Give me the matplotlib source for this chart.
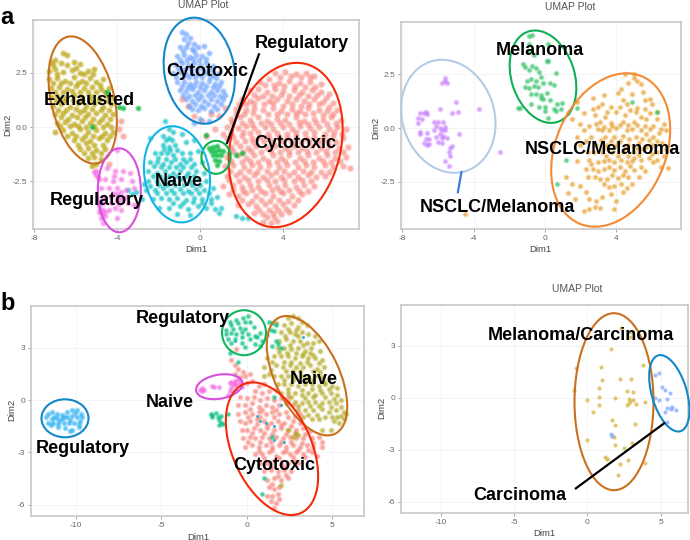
import matplotlib
matplotlib.use("Agg")
import matplotlib.pyplot as plt
from matplotlib.patches import Ellipse

W, H = 690, 540
plt.rcParams['font.family'] = ['Liberation Sans', 'DejaVu Sans']

RED, OLIVE, GREEN, TEAL, BLUE, MAG = '#F8766D', '#B79F00', '#00BA38', '#00BFC4', '#619CFF', '#F564E3'
GOLD, LILAC, SKY, MINT, YEL = '#E69F2A', '#C77CFF', '#39B6F5', '#00BF7D', '#D8BE55'

# ---------- panel a, left ----------
a_cyto = [(3.6,2.5),(4.1,2.55),(4.6,2.45),(5.1,2.5),(5.5,2.35),(2.9,2.1),(3.3,2.2),(3.8,2.05),(4.3,2.15),(4.8,2.05),(5.3,2.1),(5.8,2.0),
(2.4,1.7),(2.8,1.75),(3.2,1.6),(3.6,1.75),(4.0,1.65),(4.5,1.7),(4.9,1.6),(5.4,1.7),(5.8,1.6),(6.2,1.55),
(2.0,1.3),(2.4,1.2),(2.8,1.35),(3.3,1.2),(3.7,1.3),(4.2,1.2),(4.6,1.3),(5.0,1.2),(5.5,1.3),(5.9,1.15),(6.4,1.1),
(1.7,0.85),(2.2,0.8),(2.6,0.9),(3.0,0.8),(3.5,0.9),(3.9,0.75),(4.4,0.85),(4.8,0.75),(5.2,0.9),(5.7,0.8),(6.1,0.75),(6.6,0.8),
(1.5,0.4),(1.9,0.45),(2.4,0.35),(2.8,0.45),(3.2,0.3),(3.7,0.4),(4.1,0.35),(4.6,0.45),(5.0,0.3),(5.5,0.4),(5.9,0.35),(6.3,0.45),(6.8,0.35),
(1.3,0.0),(1.8,-0.05),(2.2,0.05),(2.6,-0.05),(3.1,0.0),(3.5,-0.1),(4.0,0.0),(4.4,-0.1),(4.8,0.05),(5.3,-0.05),(5.7,0.0),(6.2,-0.1),(6.6,0.0),(7.0,-0.1),
(1.3,-0.5),(1.6,-0.45),(2.0,-0.4),(2.5,-0.5),(2.9,-0.45),(3.3,-0.5),(3.8,-0.45),(4.2,-0.5),(4.6,-0.4),(5.1,-0.5),(5.5,-0.45),(5.9,-0.5),(6.4,-0.4),(6.9,-0.5),
(1.5,-0.9),(1.9,-0.85),(2.3,-0.95),(2.7,-0.85),(3.2,-0.95),(3.6,-0.85),(4.1,-0.95),(4.5,-0.85),(4.9,-0.95),(5.4,-0.85),(5.8,-0.95),(6.2,-0.85),(6.7,-0.95),(7.1,-0.9),
(1.3,-1.35),(1.8,-1.3),(2.2,-1.4),(2.6,-1.3),(3.0,-1.4),(3.5,-1.3),(3.9,-1.4),(4.3,-1.3),(4.8,-1.4),(5.2,-1.3),(5.7,-1.4),(6.1,-1.3),(6.5,-1.4),(7.0,-1.35),
(1.2,-1.8),(1.6,-1.75),(2.1,-1.85),(2.5,-1.75),(2.9,-1.85),(3.3,-1.75),(3.8,-1.85),(4.2,-1.75),(4.7,-1.85),(5.1,-1.75),(5.5,-1.85),(6.0,-1.75),(6.4,-1.85),(6.9,-1.8),(7.2,-1.9),
(1.3,-2.25),(1.7,-2.2),(2.1,-2.3),(2.6,-2.2),(3.0,-2.3),(3.4,-2.2),(3.9,-2.3),(4.3,-2.2),(4.7,-2.3),(5.2,-2.2),(5.6,-2.3),(6.0,-2.25),
(1.1,-2.7),(1.6,-2.65),(2.0,-2.75),(2.4,-2.65),(2.8,-2.75),(3.3,-2.65),(3.7,-2.75),(4.1,-2.65),(4.6,-2.75),(5.0,-2.65),(5.5,-2.7),
(1.4,-3.1),(1.8,-3.15),(2.2,-3.05),(2.7,-3.15),(3.1,-3.05),(3.5,-3.15),(4.0,-3.05),(4.4,-3.15),(4.9,-3.1),
(1.8,-3.6),(2.3,-3.55),(2.7,-3.65),(3.1,-3.55),(3.6,-3.65),(4.0,-3.55),(4.5,-3.6),
(2.6,-3.95),(3.0,-4.0),(3.5,-3.95),(3.9,-4.0),(4.3,-3.9),(3.0,-4.35),(3.4,-4.4),(3.7,-4.3),
(-0.9,1.3),(-0.6,1.0),(-0.3,0.5),(0.1,0.3),(0.5,0.6),(0.9,0.5),(1.2,0.9),(0.7,-0.1),(1.1,-0.3),(0.3,-0.4),(-3.8,0.3),(-3.9,-0.1),(-3.7,-0.4),(-4.4,-1.7)]
a_cyto_more = [(3.85,2.3),(4.35,2.35),(4.85,2.3),(5.3,2.3),(3.1,1.95),(3.55,1.95),(4.05,1.9),(4.55,1.9),(5.05,1.85),(5.55,1.85),(2.6,1.5),(3.0,1.45),(3.45,1.45),(3.9,1.5),(4.3,1.45),(4.75,1.5),(5.2,1.45),(5.65,1.5),(6.05,1.35),
(1.85,1.05),(2.2,1.05),(2.6,1.1),(3.05,1.05),(3.5,1.1),(4.0,1.0),(4.4,1.05),(4.85,1.0),(5.25,1.05),(5.7,1.05),(6.2,0.95),(1.7,0.6),(2.1,0.6),(2.55,0.65),(3.25,0.6),(3.7,0.6),(4.2,0.6),(4.6,0.65),(5.05,0.6),(5.45,0.65),(5.9,0.55),(6.4,0.6),
(1.55,0.2),(2.0,0.2),(2.5,0.15),(2.95,0.2),(3.4,0.15),(3.85,0.2),(4.3,0.15),(4.75,0.25),(5.2,0.15),(5.6,0.2),(6.1,0.15),(6.55,0.2),(1.5,-0.25),(2.05,-0.2),(2.4,-0.25),(2.8,-0.2),(3.25,-0.3),(3.7,-0.25),(4.2,-0.3),(4.6,-0.2),(5.05,-0.25),(5.5,-0.2),(6.0,-0.3),(6.45,-0.2),(6.85,-0.3),
(1.7,-0.7),(2.15,-0.65),(2.55,-0.7),(3.05,-0.65),(3.5,-0.7),(3.95,-0.65),(4.4,-0.7),(4.85,-0.7),(5.25,-0.65),(5.7,-0.7),(6.15,-0.65),(6.55,-0.7),(1.6,-1.1),(2.05,-1.15),(2.45,-1.1),(2.95,-1.15),(3.4,-1.1),(3.85,-1.15),(4.3,-1.1),(4.7,-1.15),(5.15,-1.1),(5.6,-1.15),(6.05,-1.1),(6.5,-1.15),(6.9,-1.15),
(1.5,-1.55),(2.0,-1.6),(2.4,-1.55),(2.8,-1.6),(3.25,-1.55),(3.7,-1.6),(4.1,-1.55),(4.55,-1.6),(5.0,-1.55),(5.45,-1.6),(5.9,-1.55),(6.3,-1.6),(6.75,-1.55),(1.45,-2.0),(1.9,-2.05),(2.35,-2.0),(2.75,-2.05),(3.2,-2.0),(3.65,-2.05),(4.05,-2.0),(4.5,-2.05),(4.95,-2.0),(5.35,-2.05),(5.8,-2.05),(6.2,-2.05),
(1.4,-2.45),(1.85,-2.5),(2.3,-2.45),(2.8,-2.5),(3.2,-2.45),(3.6,-2.5),(4.05,-2.45),(4.5,-2.5),(4.9,-2.45),(5.35,-2.5),(1.6,-2.9),(2.05,-2.95),(2.5,-2.9),(2.95,-2.95),(3.45,-2.9),(3.85,-2.95),(4.3,-2.9),(4.75,-2.95),(5.2,-2.95),(2.0,-3.35),(2.5,-3.4),(2.95,-3.35),(3.35,-3.4),(3.8,-3.35),(4.25,-3.4),(4.7,-3.35),(2.85,-3.8),(3.3,-3.8),(3.75,-3.8),(4.15,-3.75),(3.2,-4.15),(3.55,-4.15)]
a_exh = [(-6.6,3.4),(-6.4,3.35),(-7.2,3.0),(-7.0,3.1),(-6.7,2.95),(-6.1,3.0),(-5.8,2.9),(-7.3,2.6),(-7.0,2.7),(-6.6,2.55),(-6.2,2.65),(-5.8,2.5),(-5.4,2.6),(-5.1,2.7),
(-7.3,2.2),(-6.9,2.25),(-6.5,2.15),(-6.1,2.3),(-5.7,2.15),(-5.3,2.25),(-5.0,2.1),(-4.7,2.2),(-7.2,1.8),(-6.8,1.85),(-6.4,1.75),(-6.0,1.9),(-5.6,1.8),(-5.2,1.85),(-4.8,1.75),(-4.4,1.8),
(-7.2,1.4),(-6.9,1.45),(-6.5,1.35),(-6.1,1.5),(-5.7,1.4),(-5.3,1.45),(-4.9,1.35),(-4.5,1.45),(-4.2,1.35),(-7.1,1.0),(-6.7,1.05),(-6.3,0.95),(-5.9,1.1),(-5.5,1.0),(-5.1,1.05),(-4.7,0.95),(-4.3,1.05),
(-7.0,0.6),(-6.6,0.65),(-6.2,0.55),(-5.8,0.7),(-5.4,0.6),(-5.0,0.65),(-4.6,0.55),(-4.2,0.6),(-6.9,0.2),(-6.5,0.25),(-6.1,0.15),(-5.7,0.3),(-5.3,0.2),(-4.9,0.25),(-4.5,0.15),
(-7.0,-0.2),(-6.6,-0.15),(-6.2,-0.25),(-5.8,-0.1),(-5.4,-0.2),(-5.0,-0.15),(-4.6,-0.25),(-4.2,-0.2),(-6.1,-0.6),(-5.7,-0.55),(-5.3,-0.65),(-4.9,-0.5),(-4.5,-0.6),(-5.8,-1.0),(-5.4,-0.95),(-5.0,-1.05),(-4.6,-1.0),
(-5.4,-1.4),(-5.1,-1.35),(-4.8,-1.45),(-5.2,-1.8),(-5.0,-1.7)]
a_exh_more = [(-7.1,2.85),(-6.9,2.45),(-6.4,2.85),(-6.0,2.75),(-5.6,2.45),(-7.1,2.05),(-6.7,2.05),(-6.3,2.05),(-5.9,2.05),(-5.5,2.05),(-5.15,2.45),(-4.85,1.95),(-7.0,1.6),(-6.6,1.6),(-6.2,1.65),(-5.8,1.6),(-5.4,1.6),(-5.0,1.6),(-4.6,1.6),
(-6.95,1.2),(-6.55,1.2),(-6.15,1.25),(-5.7,1.2),(-5.3,1.25),(-4.9,1.2),(-4.45,1.2),(-6.85,0.8),(-6.45,0.8),(-6.0,0.85),(-5.6,0.8),(-5.2,0.85),(-4.8,0.8),(-4.4,0.8),(-6.7,0.45),(-6.35,0.4),(-5.95,0.45),(-5.55,0.45),(-5.15,0.4),(-4.75,0.4),(-4.35,0.4),
(-6.75,0.05),(-6.3,0.05),(-5.9,0.05),(-5.5,0.0),(-5.1,0.05),(-4.7,0.0),(-4.3,0.0),(-6.4,-0.4),(-6.0,-0.4),(-5.55,-0.4),(-5.15,-0.4),(-4.75,-0.4),(-4.35,-0.4),(-5.9,-0.8),(-5.5,-0.75),(-5.1,-0.8),(-4.7,-0.8),(-5.6,-1.2),(-5.2,-1.2),(-4.8,-1.2)]
a_reg_top = [(0.4,-0.95),(0.6,-0.9),(0.8,-0.85),(0.5,-1.1),(0.7,-1.1),(0.9,-1.05),(1.1,-1.1),(0.6,-1.3),(0.8,-1.3),(1.0,-1.3),(0.7,-1.5),(0.9,-1.55),(0.8,-1.75),(1.4,-1.2),(1.7,-1.3),(2.0,-1.2),(0.3,-0.35),(-3.0,0.9),(-3.7,0.9),(-3.9,0.95),(-4.5,1.6),(-5.2,-0.0)]
a_cyto2 = [(-0.9,4.4),(-0.7,4.3),(-0.8,4.05),(-0.5,4.1),(-0.3,3.85),(-1.0,3.7),(-0.7,3.7),(-0.4,3.6),(-0.1,3.7),(0.2,3.75),(-1.1,3.3),(-0.8,3.35),(-0.5,3.25),(-0.2,3.35),(0.1,3.3),(0.4,3.4),
(-1.2,2.9),(-0.9,2.95),(-0.6,2.85),(-0.3,2.95),(0.0,2.85),(0.3,2.95),(0.6,2.8),(-1.3,2.5),(-1.0,2.55),(-0.7,2.45),(-0.4,2.5),(-0.1,2.45),(0.3,2.5),(0.6,2.4),(0.9,2.5),
(-1.1,2.1),(-0.8,2.1),(-0.5,2.0),(-0.2,2.1),(0.1,2.05),(0.4,2.15),(0.7,2.0),(1.0,2.1),(-1.0,1.7),(-0.7,1.65),(-0.4,1.75),(-0.1,1.6),(0.2,1.7),(0.5,1.6),(0.8,1.7),(1.1,1.65),
(-0.7,1.3),(-0.4,1.2),(-0.1,1.3),(0.2,1.2),(0.5,1.3),(0.8,1.2),(1.1,1.3),(-0.4,0.85),(-0.1,0.8),(0.2,0.9),(0.5,0.75),(0.8,0.85),(-0.3,0.2),(0.0,0.4),(0.4,0.3),(1.2,1.5),
(-0.6,3.9),(-0.85,3.5),(-0.3,3.5),(-1.0,3.1),(-0.65,3.1),(-0.35,3.15),(-0.05,3.1),(0.3,3.15),(-1.05,2.75),(-0.75,2.7),(-0.45,2.7),(-0.15,2.7),(0.15,2.7),(0.45,2.65),(-1.15,2.3),(-0.85,2.3),(-0.55,2.3),(-0.25,2.3),(0.1,2.3),(0.45,2.3),(0.75,2.25),
(-0.9,1.9),(-0.6,1.85),(-0.3,1.9),(0.0,1.85),(0.3,1.9),(0.6,1.85),(0.9,1.9),(-0.85,1.5),(-0.55,1.45),(-0.25,1.5),(0.05,1.45),(0.35,1.5),(0.65,1.5),(0.95,1.45),(-0.55,1.0),(-0.25,1.05),(0.05,1.0),(0.35,1.05),(0.65,1.0),(1.0,1.05)]
a_naive = [(-1.7,0.3),(-1.5,-0.1),(-1.8,-0.4),(-1.5,-0.5),(-1.3,-0.2),(-0.9,-0.3),(-2.4,-0.5),(-1.8,-0.8),(-1.5,-0.9),(-1.2,-0.8),(-0.7,-0.7),(-0.3,-0.6),
(-2.2,-1.2),(-1.9,-1.2),(-1.6,-1.2),(-1.3,-1.3),(-0.9,-1.2),(-0.5,-1.2),(-0.1,-1.1),(-2.4,-1.6),(-2.1,-1.6),(-1.8,-1.7),(-1.4,-1.6),(-1.0,-1.7),(-0.7,-1.6),(-0.3,-1.7),(0.1,-1.6),
(-2.5,-2.0),(-2.1,-2.1),(-1.7,-2.0),(-1.3,-2.1),(-1.0,-2.0),(-0.6,-2.1),(-0.2,-2.0),(0.2,-2.1),(-2.5,-2.5),(-2.1,-2.5),(-1.7,-2.4),(-1.3,-2.5),(-0.9,-2.4),(-0.5,-2.5),(-0.1,-2.4),(0.3,-2.5),
(-2.6,-2.9),(-2.2,-2.9),(-1.8,-2.8),(-1.4,-2.9),(-1.0,-2.85),(-0.6,-2.95),(-0.2,-2.85),(0.2,-2.9),(0.6,-2.8),(-3.1,-3.0),(-3.3,-3.1),(-2.8,-3.3),(-2.3,-3.3),(-1.9,-3.25),(-1.5,-3.3),(-1.1,-3.25),(-0.7,-3.35),(-0.3,-3.25),(0.1,-3.3),(0.5,-3.3),(0.8,-3.2),
(-2.0,-3.7),(-1.5,-3.7),(-1.0,-3.65),(-0.6,-3.75),(-0.1,-3.65),(0.3,-3.7),(0.7,-3.75),(1.0,-3.7),(0.9,-3.95),(-0.5,-4.05),(-1.1,-4.0),(1.7,-4.1),(2.0,-4.2),(2.3,-4.2),(-3.5,-2.9),(-2.7,-2.6),
(-1.65,-0.6),(-1.35,-0.6),(-1.75,-1.0),(-1.45,-1.05),(-1.1,-1.05),(-2.05,-1.4),(-1.65,-1.45),(-1.2,-1.45),(-0.85,-1.45),(-0.5,-1.45),(-2.25,-1.8),(-1.9,-1.85),(-1.5,-1.85),(-1.15,-1.85),(-0.85,-1.85),(-0.45,-1.85),(-2.3,-2.25),(-1.95,-2.25),(-1.5,-2.25),(-1.1,-2.25),(-0.7,-2.25),(-0.3,-2.25),
(-2.4,-2.7),(-2.0,-2.65),(-1.6,-2.65),(-1.2,-2.65),(-0.8,-2.65),(-0.4,-2.65),(0.0,-2.65),(-2.1,-3.05),(-1.65,-3.05),(-1.25,-3.05),(-0.85,-3.05),(-0.45,-3.05),(-0.05,-3.05),(0.4,-3.05),(-1.3,-3.5),(-0.85,-3.5),(-0.35,-3.45),(0.1,-3.5),(0.5,-3.5)]
a_reg = [(-4.0,-1.05),(-5.0,-2.0),(-5.0,-2.2),(-4.9,-2.4),(-4.5,-1.9),(-4.1,-2.0),(-3.7,-2.0),(-3.4,-2.1),(-4.6,-2.4),(-4.2,-2.5),(-3.8,-2.4),(-3.3,-2.5),(-4.8,-2.8),(-4.4,-2.8),(-4.0,-2.8),(-3.6,-2.9),(-3.2,-2.8),
(-4.7,-3.2),(-4.3,-3.2),(-4.0,-3.1),(-3.8,-3.0),(-3.6,-3.2),(-4.9,-3.6),(-4.7,-3.5),(-4.3,-3.5),(-4.0,-3.4),(-3.8,-3.3),(-3.5,-3.5),(-3.2,-3.6),(-4.9,-3.9),(-4.7,-3.8),(-4.4,-3.8),(-4.1,-3.7),(-3.8,-3.8),(-4.8,-4.2),(-4.6,-4.1),(-4.0,-4.2),(-4.7,-4.4),
(-5.1,-2.05),(-4.95,-2.3),(-4.15,-2.25),(-3.95,-3.2),(-4.2,-3.05),(-3.9,-3.55),(-4.85,-3.75),(-4.75,-4.0),(-4.6,-3.9)]

# ---------- panel a, right ----------
a2_gold = [(4.5,2.5),(5.0,2.5),(4.7,2.1),(5.0,2.35),(5.4,2.05),(4.3,1.8),(4.1,1.65),(3.3,1.55),(2.7,1.4),(4.9,1.6),(1.8,1.2),(2.7,0.9),(3.0,1.0),(3.7,1.0),(4.2,1.0),(4.6,1.1),(5.2,0.95),(5.9,1.35),(6.0,1.1),
(1.3,0.7),(2.2,0.7),(2.8,0.6),(3.4,0.5),(4.0,0.75),(4.5,0.6),(5.1,0.75),(5.6,0.9),(6.3,0.75),(1.5,0.4),(2.0,0.2),(3.1,0.3),(3.7,0.25),(4.4,0.3),(5.0,0.3),(5.7,0.4),(6.3,0.4),(6.7,0.2),
(2.2,-0.1),(3.0,-0.05),(3.2,-0.1),(3.6,-0.1),(4.0,0.0),(4.6,-0.1),(4.9,-0.05),(5.4,-0.1),(5.9,-0.05),(6.5,-0.05),(6.8,-0.1),(1.8,-0.4),(2.6,-0.4),(3.4,-0.4),(3.9,-0.4),(4.4,-0.35),(5.1,-0.4),(5.7,-0.3),(6.1,-0.4),
(2.0,-0.8),(2.9,-0.8),(3.5,-0.8),(4.1,-0.7),(4.7,-0.8),(5.3,-0.7),(6.0,-0.8),(6.6,-0.7),(2.4,-1.1),(3.2,-1.1),(3.8,-1.1),(4.4,-1.1),(5.0,-1.1),(5.5,-1.0),(6.3,-1.1),(6.8,-1.0),
(1.8,-1.55),(2.5,-1.5),(3.0,-1.6),(3.6,-1.5),(4.3,-1.5),(4.9,-1.55),(5.4,-1.5),(6.1,-1.6),(6.9,-1.85),(2.3,-1.9),(2.7,-1.9),(3.3,-1.9),(3.9,-1.95),(4.5,-2.0),(5.0,-1.95),(5.6,-2.0),(6.5,-1.8),
(1.2,-2.3),(2.4,-2.3),(3.1,-2.4),(3.5,-2.4),(4.1,-2.35),(4.7,-2.3),(5.3,-2.3),(1.5,-2.6),(3.3,-2.6),(3.9,-2.7),(4.3,-2.6),(4.9,-2.6),(1.3,-3.05),(2.3,-3.0),(3.2,-3.2),(3.7,-3.1),(4.4,-3.0),(1.7,-3.3),(2.9,-3.4),(4.0,-3.4),
(2.2,-3.85),(2.5,-3.8),(2.8,-3.7),(3.1,-3.75),(3.9,-3.8),(-4.5,-4.0),
(5.2,2.2),(5.5,1.7),(5.6,1.3),(4.4,1.3),(3.2,1.1),(3.5,0.75),(4.8,0.85),(5.4,0.5),(5.9,0.7),(6.1,0.1),(5.6,0.1),(5.2,0.15),(4.7,0.15),(4.2,0.15),(3.8,0.1),(3.3,0.05),(2.9,0.2),(2.5,0.1),(6.4,-0.25),(5.85,-0.55),(5.45,-0.5),(4.75,-0.5),(4.25,-0.6),(3.7,-0.6),(3.15,-0.55),(2.3,-0.6),
(6.3,-0.6),(5.7,-0.9),(5.2,-0.95),(4.55,-0.95),(3.95,-0.85),(3.35,-0.95),(2.75,-1.1),(6.0,-1.2),(5.3,-1.25),(4.7,-1.3),(4.1,-1.3),(3.45,-1.3),(5.85,-1.4),(5.0,-1.4),(4.6,-1.6),(3.9,-1.6),(3.3,-1.55),(2.6,-1.7),(6.7,-1.3),(6.3,-1.5),(5.4,-1.8),(4.8,-1.75),(4.2,-1.8),(3.6,-1.8),(3.0,-2.0),(4.4,-2.2),(3.8,-2.2),(2.8,-2.3),(3.6,-2.75),(4.6,-2.8),(2.0,-2.7),(2.5,-3.3)]
a2_green = [(-0.9,4.3),(-0.7,4.35),(-0.9,3.9),(0.2,3.9),(-0.9,3.6),(-0.6,3.4),(0.1,3.15),(0.2,3.15),(-1.2,3.0),(-1.1,2.85),(-0.9,2.7),(-0.7,2.9),(-0.5,2.8),(-0.3,2.6),(0.6,2.55),(-1.0,2.2),(-0.8,2.3),(-0.5,2.2),(-0.2,2.4),(0.3,2.1),(0.5,2.0),
(-1.1,1.9),(-0.9,1.85),(-0.6,1.95),(-0.4,1.9),(-0.1,2.1),(0.1,1.65),(-0.8,1.6),(-0.5,1.6),(-0.2,1.55),(-0.2,1.4),(-0.1,1.35),(0.3,1.3),(-0.8,1.1),(-0.3,1.0),(-1.5,0.95),(-1.4,0.95),(0.0,1.0),(0.0,0.8),(0.7,1.1),(0.95,1.15),(0.5,0.9),(0.9,0.9),(1.8,0.95),(0.2,0.45),(0.6,0.8),(4.9,1.2),(6.3,0.75),(0.7,-2.6),(1.2,-1.5)]
a2_lilac = [(-5.6,2.35),(-5.6,2.2),(-5.8,2.1),(-5.5,2.1),(-5.0,1.2),(-4.9,0.75),(-5.2,0.7),(-5.9,0.9),(-3.7,0.9),(-7.0,0.7),(-6.8,0.7),(-6.7,0.75),(-6.6,0.65),(-7.1,0.45),(-6.9,0.4),(-7.1,0.25),(-6.2,0.3),(-6.0,0.3),(-5.7,0.3),(-6.1,0.1),(-5.9,0.0),(-5.6,0.05),(-6.2,-0.1),(-5.8,-0.1),(-5.6,-0.1),
(-7.0,-0.2),(-7.0,-0.3),(-6.6,-0.25),(-5.9,-0.3),(-5.7,-0.35),(-4.8,-0.3),(-6.1,-0.4),(-5.8,-0.45),(-5.5,-0.45),(-6.7,-0.5),(-6.5,-0.5),(-6.0,-0.65),(-5.8,-0.7),(-6.8,-0.7),(-6.6,-0.8),(-6.5,-0.75),(-5.2,-0.85),(-5.3,-0.95),(-5.4,-1.1),(-2.5,-1.1),(-5.3,-1.3),(-5.6,-1.55),(-5.4,-1.75)]

# ---------- panel b, left ----------
b_sky = [(-11.6,-0.8),(-11.4,-0.7),(-11.1,-0.8),(-10.8,-0.85),(-10.5,-0.7),(-10.2,-0.6),(-9.9,-0.55),(-9.7,-0.8),(-11.7,-1.0),(-11.4,-1.1),(-11.1,-1.05),(-10.8,-1.1),(-10.5,-1.0),(-10.2,-0.9),(-9.9,-1.0),(-9.6,-1.0),
(-11.6,-1.3),(-11.3,-1.3),(-11.0,-1.4),(-10.7,-1.3),(-10.4,-1.3),(-10.1,-1.3),(-9.8,-1.35),(-11.0,-1.55),(-10.6,-1.6),(-10.2,-1.7),(-9.8,-1.55),(-10.3,-1.8),(-11.25,-0.95),(-10.95,-1.2),(-10.65,-0.95),(-10.35,-1.15),(-10.05,-0.75),(-9.75,-1.2),(-11.45,-1.45)]
b_mint = [(-1.0,4.5),(-0.6,4.6),(-0.2,4.7),(0.1,4.8),(-0.9,4.3),(-0.5,4.4),(-0.1,4.45),(0.2,4.5),(-1.2,4.0),(-0.8,4.1),(-0.4,4.15),(-0.1,4.1),(0.4,4.2),(-1.2,3.8),(-0.9,3.85),(-0.6,3.8),(-0.3,3.9),(0.1,3.8),(0.5,3.7),(0.8,3.85),
(-1.1,3.5),(-0.7,3.5),(-0.3,3.6),(0.2,3.5),(0.6,3.6),(0.9,3.4),(-0.9,3.25),(-0.3,3.3),(-0.1,3.05),(0.5,3.2),(0.8,3.1),(1.3,4.5),(1.5,4.4),(1.7,4.3),(1.4,4.0),(1.6,3.95),(1.7,3.4),(1.5,3.1),(1.8,3.2),(2.0,3.0),(1.2,3.75),
(-2.1,-0.8),(-2.0,-0.85),(-1.8,-0.75),(-2.0,-1.0),(-1.7,-0.95),(-1.5,-0.9),(-1.6,-1.15),(-1.5,-1.3),(-1.6,-1.45),(-1.4,-1.35),(-1.1,-0.8),(0.9,-5.4),(1.0,-4.5),(1.6,0.2),(1.5,-2.1),(-1.0,2.7),(-0.5,2.2)]
b_red = [(-0.6,2.9),(-0.9,2.3),(-0.7,2.0),(-0.5,1.8),(-0.2,1.6),(-0.7,1.5),(-0.4,1.3),(-0.1,1.4),(0.2,1.5),(0.0,1.0),(0.3,1.1),(0.7,0.8),(1.0,0.9),(0.5,0.5),(0.9,0.4),(1.3,0.5),(1.7,0.6),
(-0.4,0.2),(0.0,0.1),(0.4,0.2),(0.8,0.0),(1.2,0.1),(1.6,0.0),(2.0,0.1),(2.4,0.2),(-0.5,-0.3),(-0.1,-0.3),(0.3,-0.2),(0.7,-0.4),(1.1,-0.3),(1.5,-0.4),(1.9,-0.3),(2.3,-0.2),(2.7,-0.3),
(-0.5,-0.8),(-0.1,-0.7),(0.3,-0.8),(0.7,-0.7),(1.1,-0.8),(1.5,-0.7),(1.9,-0.8),(2.3,-0.7),(2.8,-0.9),(3.1,-0.8),(-0.4,-1.2),(-0.1,-1.3),(0.2,-1.2),(0.6,-1.1),(1.0,-1.2),(1.4,-1.3),(1.8,-1.2),(2.2,-1.3),(2.7,-1.2),(3.1,-1.3),
(-0.3,-1.7),(0.0,-1.7),(0.4,-1.6),(0.8,-1.7),(1.2,-1.6),(1.6,-1.7),(2.0,-1.6),(2.4,-1.7),(2.9,-1.7),(3.3,-1.6),(3.7,-1.8),(-0.2,-2.2),(0.2,-2.1),(0.5,-2.2),(0.9,-2.1),(1.3,-2.2),(1.7,-2.1),(2.1,-2.2),(2.5,-2.1),(2.9,-2.2),(3.3,-2.2),(3.8,-2.2),(4.2,-2.1),(4.4,-2.4),
(-0.1,-2.7),(0.3,-2.6),(0.7,-2.7),(1.1,-2.6),(1.5,-2.7),(1.9,-2.6),(2.3,-2.7),(2.7,-2.6),(3.1,-2.7),(3.5,-2.6),(3.9,-2.7),(4.4,-2.7),(0.5,-3.1),(0.9,-3.1),(1.3,-3.0),(1.7,-3.2),(2.1,-3.0),(2.5,-3.1),(2.9,-3.0),(3.3,-3.1),(3.8,-3.0),(4.1,-3.2),
(0.8,-3.6),(1.2,-3.6),(1.6,-3.5),(2.0,-3.7),(2.4,-3.6),(2.8,-3.5),(3.0,-3.6),(1.0,-4.1),(1.4,-4.0),(1.8,-4.1),(2.2,-4.0),(2.6,-4.1),(1.2,-4.6),(1.6,-4.5),(2.0,-4.6),(2.4,-4.5),(1.3,-5.0),(1.6,-5.1),(1.9,-5.0),(1.2,-5.5),(1.5,-5.5),(1.8,-5.4),(1.4,-5.8),(1.7,-5.9),(1.6,-6.2),(1.9,-5.7),
(0.2,-0.5),(0.9,-0.55),(1.7,-0.55),(0.1,-1.0),(0.8,-0.95),(1.6,-1.0),(2.4,-1.0),(0.6,-1.4),(1.2,-1.45),(2.0,-1.45),(2.6,-1.5),(3.4,-1.95),(0.3,-1.9),(1.0,-1.9),(1.5,-1.95),(2.3,-1.95),(2.9,-1.95),(0.1,-2.4),(0.8,-2.4),(1.4,-2.4),(2.0,-2.4),(2.6,-2.4),(3.2,-2.45),(3.9,-2.45),(0.7,-2.9),(1.5,-2.85),(2.3,-2.9),(3.0,-2.85),(3.6,-2.85),(1.0,-3.35),(1.9,-3.35),(2.7,-3.3),(3.4,-3.3),(1.4,-3.85),(2.2,-3.85),(1.8,-4.35),(2.3,-4.3),(1.5,-4.8)]
b_olive = [(2.4,4.7),(2.7,4.8),(3.0,4.7),(3.2,4.5),(1.7,4.4),(2.2,4.3),(2.6,4.4),(3.0,4.2),(3.5,4.3),(2.0,3.9),(2.5,3.9),(2.8,3.8),(3.2,3.9),(3.6,3.8),(4.0,3.7),(1.9,3.4),(2.3,3.5),(2.7,3.4),(3.1,3.4),(3.5,3.3),(3.9,3.3),(4.2,3.4),
(1.8,3.0),(2.2,3.0),(2.6,2.9),(3.0,3.0),(3.4,2.8),(3.7,2.7),(3.9,2.6),(4.3,2.8),(1.2,2.4),(1.6,2.5),(2.0,2.5),(2.4,2.5),(2.8,2.4),(3.2,2.5),(3.6,2.4),(4.0,2.4),(4.4,2.3),
(1.0,1.9),(1.3,1.5),(1.7,2.0),(2.1,1.9),(2.5,2.0),(2.9,1.9),(3.3,1.9),(3.7,2.0),(4.1,1.8),(4.5,1.9),(1.0,1.4),(1.6,1.4),(2.0,1.4),(2.4,1.4),(2.8,1.4),(3.2,1.4),(3.6,1.3),(4.0,1.4),(4.4,1.3),(4.8,1.2),
(1.8,0.9),(2.2,0.9),(2.6,0.9),(3.0,0.8),(3.4,0.9),(3.8,0.9),(4.2,0.8),(4.6,0.9),(5.0,0.8),(5.3,0.7),(2.0,0.4),(2.4,0.4),(2.8,0.4),(3.2,0.3),(3.6,0.4),(4.0,0.3),(4.4,0.4),(4.9,0.4),(5.3,0.3),
(2.4,-0.1),(2.8,-0.1),(3.2,-0.2),(3.6,-0.1),(4.0,-0.1),(4.4,-0.2),(4.8,-0.1),(5.2,-0.2),(5.5,0.0),(3.0,-0.6),(3.4,-0.6),(3.9,-0.6),(4.4,-0.5),(4.8,-0.7),(5.2,-0.6),(5.7,-0.7),(5.5,-0.9),(5.8,-0.8),
(3.3,-1.0),(3.8,-1.1),(4.2,-1.1),(4.6,-1.0),(5.1,-1.2),(5.4,-1.3),(5.7,-1.1),(2.4,-1.7),(2.8,-1.9),(3.0,-2.0),(2.7,-2.1),(4.4,-1.7),(4.9,-1.7),(2.0,-4.9),
(2.4,4.1),(2.9,4.0),(2.25,3.7),(3.0,3.65),(2.5,3.15),(3.3,3.15),(3.75,3.0),(1.9,2.75),(2.35,2.7),(2.9,2.7),(3.3,2.65),(1.5,2.2),(2.2,2.2),(2.6,2.2),(3.1,2.15),(3.5,2.2),(4.2,2.15),(1.4,1.75),(2.3,1.65),(2.7,1.65),(3.1,1.65),(3.9,1.65),(4.3,1.6),
(2.2,1.15),(2.7,1.15),(3.4,1.15),(3.9,1.15),(4.5,1.05),(2.4,0.65),(3.2,0.6),(3.8,0.65),(4.3,0.6),(4.8,0.65),(2.6,0.15),(3.4,0.1),(3.9,0.15),(4.6,0.15),(5.1,0.05),(3.0,-0.35),(3.7,-0.35),(4.2,-0.35),(4.9,-0.4),(5.5,-0.4),(3.6,-0.85),(4.1,-0.85),(5.0,-0.95),(5.3,-0.95)]
b_mag = [(-2.7,0.6),(-2.6,0.5),(-2.6,0.7),(-2.5,0.55),(-2.0,0.8),(-1.9,0.75),(-1.6,0.75),(-1.0,0.5),(-0.9,0.7),(-1.0,1.0),(-0.9,1.05),(-0.7,1.1),(-0.5,1.2),(-0.8,0.85),(-0.6,0.85),(-0.4,0.9),(-0.7,1.0),(-0.4,1.1),(-0.3,0.75),(-0.6,0.6),(-1.1,0.3)]
b_blue = [(0.6,-0.9),(0.8,-1.2),(1.1,-1.3),(1.6,-1.5),(1.6,-2.3),(2.2,-2.4),(2.0,-0.3),(3.3,3.6),(-0.7,3.4)]

# ---------- panel b, right ----------
b2_yel = [(2.3,4.0),(2.9,3.8),(2.9,3.5),(1.6,2.8),(-0.8,1.7),(0.9,1.75),(3.8,1.9),(3.0,1.05),(2.2,1.1),(1.0,1.0),(0.8,0.55),(-0.9,0.45),(2.7,0.4),(3.1,0.3),(0.8,0.05),(1.9,0.0),(-0.0,-0.15),(2.8,-0.1),(2.9,-0.2),(3.1,-0.15),(2.85,-0.3),(3.9,-0.25),(0.8,-0.4),(2.7,-0.45),(3.3,-0.35),(0.4,-0.8),
(1.65,-1.3),(1.9,-1.55),(3.25,-1.5),(1.7,-2.2),(1.8,-2.25),(-0.05,-2.45),(3.05,-2.6),(1.9,-2.75),(2.5,-2.9),(1.2,-3.4),(1.3,-3.5),(1.3,-3.55),(2.75,-3.6),(2.2,-3.8),(3.95,-3.75),(2.05,-4.45)]
b2_blue = [(4.6,1.3),(4.9,1.4),(5.1,0.6),(5.3,0.45),(5.6,0.25),(4.6,0.0),(4.9,-0.15),(5.4,-0.1),(5.4,-0.6),(5.7,-0.6),(5.75,-0.55),(5.7,-0.65),(6.0,-0.7),(5.3,-0.85),(5.4,-1.4),(1.6,-2.1),(1.65,-2.2)]

# ---------- annotations, in figure pixels: (cx, cy, major, minor, clockwise angle, colour) ----------
ELLIPSES = [
 (82.7,100,130,63,76.5,'#C9701F'),(199.3,70.7,107,70,80,'#1287C9'),(285.7,145,167,110,-76.4,'#F52A0A'),(216,157.3,33,29,90,'#12AE4E'),
 (177,174.3,97,65,80,'#12B5E8'),(119.3,190.3,84,43,90,'#D64FDF'),
 (448.3,116.3,115,92,72,'#B4CBE8'),(543,76.7,95,63,72,'#0EB056'),(610.7,150,160,110,-67,'#F58A35'),
 (65,418.3,47,38,0,'#1287C9'),(244,332.7,45,44,90,'#0FB45E'),(307,375.7,129,64,64.2,'#C9701F'),(219.3,386.7,47,24,-10,'#D64FDF'),(272,448.7,141,79,65.9,'#F52A0A'),
 (614,401.7,177,79,90,'#C9701F'),(669.3,393.3,79,35,73.6,'#1287C9')]
LEADERS = [((259.3,53.3),(226.7,144),'black'),(((350+335/3),171),((350+323/3),193.3),'#3D7DD8'),(((350+945/3),(275+443/3)),((350+675/3),(275+642/3)),'black')]
LABELS = [('Exhausted',89.3,100.7),('Cytotoxic',207.3,71.7),('Regulatory',301.7,44),('Cytotoxic',295,144),('Naive',179,181.7),('Regulatory',96.7,200.7),
 ('Melanoma',540,50.7),('NSCLC/Melanoma',602.3,149),('NSCLC/Melanoma',497.7,207.3),
 ('Regulatory',182.7,318.7),('Naive',169.3,402.3),('Naive',313.3,379.3),('Regulatory',83.3,448.7),('Cytotoxic',274,465.3),
 ('Melanoma/Carcinoma',581,336),('Carcinoma',519.7,495)]


def panel(px, xticks, yticks, xlim, ylim, series):
    l, r, t, b = px
    ax = fig.add_axes([l/W, 1-b/H, (r-l)/W, (b-t)/H])
    ax.set_xlim(*xlim); ax.set_ylim(*ylim)
    ax.set_xticks(xticks); ax.set_yticks(yticks)
    ax.set_xticklabels([str(v) for v in xticks])
    ax.set_yticklabels([('%.1f' % v if max(abs(w) for w in yticks) < 3 else '%d' % v) for v in yticks])
    ax.grid(color='#f4f4f4', lw=0.7); ax.set_axisbelow(True)
    ax.tick_params(colors='#666666', labelsize=6, length=2, width=0.6, pad=2, color='#999999')
    for s in ax.spines.values():
        s.set_color('#c4c4c4'); s.set_linewidth(1.1)
    for pts, c, size, alpha, halo in series:
        xs, ys = [p[0] for p in pts], [p[1] for p in pts]
        if halo:
            ax.scatter(xs, ys, s=size*2.4, color=c, alpha=halo, lw=0)
        ax.scatter(xs, ys, s=size, color=c, alpha=alpha, lw=0)
    return ax


fig = plt.figure(figsize=(6.9, 5.4), dpi=100)

panel((33,359,20,229), [-8,-4,0,4], [-2.5,0.0,2.5], (-8.06,7.65), (-4.69,4.94),
      [(a_cyto+a_cyto_more,RED,13,.45,.22),(a_exh+a_exh_more,OLIVE,12,.6,.22),(a_cyto2,BLUE,11,.55,.22),(a_naive,TEAL,10,.6,.22),(a_reg,MAG,10,.55,.22),(a_reg_top,GREEN,10,.7,.25)])
panel((401,681,21.7,229), [-8,-4,0,4], [-2.5,0.0,2.5], (-8.08,7.65), (-4.71,4.96),
      [(a2_gold,GOLD,9,.65,.18),(a2_green,'#3CC46E',9,.7,.18),(a2_lilac,LILAC,9,.6,.18)])
panel((31,364,306.3,516), [-10,-5,0,5], [-6,-3,0,3], (-12.6,6.85), (-6.66,5.38),
      [(b_red,RED,9,.55,.22),(b_olive,'#AFA51A',9,.6,.22),(b_mint,MINT,8,.65,.22),(b_sky,SKY,9,.7,.25),(b_mag,MAG,8,.6,.22),(b_blue,'#2FA9D0',5,.9,0)])
panel((401,688,305,513.3), [-10,-5,0,5], [-6,-3,0,3], (-12.7,6.85), (-6.65,5.33),
      [(b2_yel,YEL,7,.85,.15),(b2_blue,'#8FB4FF',7,.85,.15)])

ov = fig.add_axes([0,0,1,1], zorder=10)
ov.set_xlim(0,W); ov.set_ylim(H,0); ov.axis('off'); ov.patch.set_alpha(0)
for cx,cy,w,h,ang,c in ELLIPSES:
    ov.add_patch(Ellipse((cx,cy),w,h,angle=ang,fill=False,ec=c,lw=1.5))
for p,q,c in LEADERS:
    ov.plot([p[0],q[0]],[p[1],q[1]],color=c,lw=1.6,solid_capstyle='butt')
for s,x,y in LABELS:
    ov.text(x,y,s,ha='center',va='center',fontsize=13,fontweight='bold',color='black')
ov.text(6.5,17,'a',ha='center',va='center',fontsize=17,fontweight='bold')
ov.text(8,303,'b',ha='center',va='center',fontsize=17,fontweight='bold')
for x,y in [(203,5.5),(570,6.5),(577,289)]:
    ov.text(x,y,'UMAP Plot',ha='center',va='center',fontsize=7.5,color='#555555')
for x,y in [(196,249),(540,249),(198,537),(544,533)]:
    ov.text(x,y,'Dim1',ha='center',va='center',fontsize=6.8,color='#444444')
for x,y in [(8,125),(376,128),(12,410),(382,408)]:
    ov.text(x,y,'Dim2',ha='center',va='center',rotation=90,fontsize=6.8,color='#444444')

fig.savefig('out.png', dpi=100)
